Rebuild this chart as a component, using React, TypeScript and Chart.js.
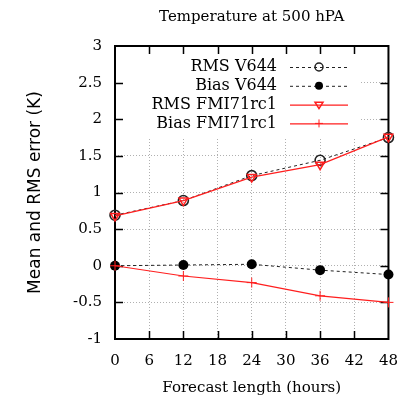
import React, { useEffect, useRef } from 'react';
import { Chart, registerables } from 'chart.js';

Chart.register(...registerables);

const forecastHours = [0, 12, 24, 36, 48];
const rmsV644 = [0.69, 0.89, 1.23, 1.44, 1.75];
const biasV644 = [0.0, 0.01, 0.02, -0.06, -0.12];
const rmsFMI = [0.68, 0.89, 1.21, 1.38, 1.76];
const biasFMI = [0.0, -0.14, -0.23, -0.41, -0.5];
const seriesLabels = ['RMS V644', 'Bias V644', 'RMS FMI71rc1', 'Bias FMI71rc1'];
const chartTitle = 'Temperature at 500 hPA';
const xTitle = 'Forecast length (hours)';
const yTitle = 'Mean and RMS error (K)';
const xMin = 0, xMax = 48, xStep = 6;
const yMin = -1, yMax = 3, yStep = 0.5;

const SERIF = '"DejaVu Serif", serif';
const SANS = '"DejaVu Sans", sans-serif';
const RED = 'rgb(255,30,30)';
const DARK = '#222';

function toPoints(ys: number[]) {
  return forecastHours.map((x, i) => ({ x, y: ys[i] }));
}

function drawMarker(ctx: CanvasRenderingContext2D, kind: number, x: number, y: number, r: number) {
  ctx.save();
  ctx.setLineDash([]);
  if (kind === 0) {
    ctx.strokeStyle = DARK; ctx.lineWidth = 1.5;
    ctx.beginPath(); ctx.arc(x, y, r, 0, Math.PI * 2); ctx.stroke();
  } else if (kind === 1) {
    ctx.fillStyle = '#000';
    ctx.beginPath(); ctx.arc(x, y, r, 0, Math.PI * 2); ctx.fill();
  } else if (kind === 2) {
    ctx.strokeStyle = RED; ctx.lineWidth = 1.5;
    ctx.beginPath();
    ctx.moveTo(x - r, y - r * 0.6); ctx.lineTo(x + r, y - r * 0.6); ctx.lineTo(x, y + r); ctx.closePath();
    ctx.stroke();
  } else {
    ctx.strokeStyle = RED; ctx.lineWidth = 1;
    ctx.beginPath();
    ctx.moveTo(x - r, y); ctx.lineTo(x + r, y);
    ctx.moveTo(x, y - r); ctx.lineTo(x, y + r);
    ctx.stroke();
  }
  ctx.restore();
}

const framePlugin = {
  id: 'frameAndLegend',
  beforeDatasetsDraw(chart: any) {
    const { ctx, chartArea: a, scales } = chart;
    const xs = scales.x, ys = scales.y;
    ctx.save();
    // legend background (opaque, hides grid)
    ctx.fillStyle = '#fff';
    ctx.fillRect(a.left + 1, a.top + 1, 243, 90);
    // tick marks on all four sides, pointing inward
    ctx.strokeStyle = '#000';
    ctx.lineWidth = 1.5;
    ctx.beginPath();
    for (let v = xMin + xStep; v < xMax; v += xStep) {
      const px = Math.round(xs.getPixelForValue(v)) + 0.5;
      ctx.moveTo(px, a.bottom); ctx.lineTo(px, a.bottom - 8);
      ctx.moveTo(px, a.top); ctx.lineTo(px, a.top + 8);
    }
    for (let v = yMin + yStep; v < yMax; v += yStep) {
      const py = Math.round(ys.getPixelForValue(v)) + 0.5;
      ctx.moveTo(a.left, py); ctx.lineTo(a.left + 8, py);
      ctx.moveTo(a.right, py); ctx.lineTo(a.right - 8, py);
    }
    ctx.stroke();
    // frame
    ctx.lineWidth = 2;
    ctx.strokeRect(a.left, a.top, a.right - a.left, a.bottom - a.top);
    ctx.restore();
  },
  afterDatasetsDraw(chart: any) {
    const { ctx, chartArea: a } = chart;
    ctx.save();
    ctx.font = '16px ' + SERIF;
    ctx.fillStyle = '#000';
    ctx.textAlign = 'right';
    ctx.textBaseline = 'middle';
    const textX = a.left + 162;
    const lineL = a.left + 175, lineR = a.left + 233, mk = a.left + 204;
    seriesLabels.forEach((label, i) => {
      const y = a.top + 21 + i * 18.8;
      ctx.fillText(label, textX, y);
      ctx.save();
      if (i < 2) {
        ctx.strokeStyle = DARK; ctx.lineWidth = 1; ctx.setLineDash([3, 3]);
      } else {
        ctx.strokeStyle = RED; ctx.lineWidth = 1.2; ctx.setLineDash([]);
      }
      ctx.beginPath(); ctx.moveTo(lineL, y + 0.5); ctx.lineTo(lineR, y + 0.5); ctx.stroke();
      ctx.restore();
      drawMarker(ctx, i, mk, y, 4);
    });
    ctx.restore();
  },
};

export default function App() {
  const ref = useRef<HTMLCanvasElement>(null);
  useEffect(() => {
    document.body.style.margin = '0';
    const canvas = ref.current!;
    const gridCfg = { color: '#b0b0b0', lineWidth: 1, drawTicks: false };
    const borderCfg = { display: false, dash: [1, 2] };
    const chart = new Chart(canvas, {
      type: 'line',
      data: {
        datasets: [
          {
            label: seriesLabels[0], data: toPoints(rmsV644), borderColor: DARK, borderWidth: 1,
            borderDash: [3, 3], pointStyle: 'circle', pointRadius: 5, pointBorderWidth: 1.6,
            pointBorderColor: DARK, pointBackgroundColor: 'rgba(0,0,0,0)', order: 4, clip: false,
          },
          {
            label: seriesLabels[1], data: toPoints(biasV644), borderColor: DARK, borderWidth: 1,
            borderDash: [3, 3], pointStyle: 'circle', pointRadius: 5, pointBorderWidth: 0,
            pointBorderColor: '#000', pointBackgroundColor: '#000', order: 3, clip: false,
          },
          {
            label: seriesLabels[2], data: toPoints(rmsFMI), borderColor: RED, borderWidth: 1.2,
            pointStyle: 'triangle', rotation: 180, pointRadius: 5, pointBorderWidth: 1.5,
            pointBorderColor: RED, pointBackgroundColor: 'rgba(0,0,0,0)', order: 2, clip: false,
          },
          {
            label: seriesLabels[3], data: toPoints(biasFMI), borderColor: RED, borderWidth: 1.2,
            pointStyle: 'cross', pointRadius: 5, pointBorderWidth: 1,
            pointBorderColor: RED, pointBackgroundColor: RED, order: 1, clip: false,
          },
        ] as any,
      },
      options: {
        responsive: false,
        animation: false,
        layout: { padding: { left: 0, right: 19, top: 0, bottom: 0 } },
        plugins: {
          legend: { display: false },
          tooltip: { enabled: false },
          title: {
            display: true, text: chartTitle, fullSize: false, color: '#000',
            font: { family: SERIF, size: 15, weight: 'normal' },
            padding: { top: 8, bottom: 20 },
          },
        },
        scales: {
          x: {
            type: 'linear', min: xMin, max: xMax,
            ticks: { stepSize: xStep, color: '#000', padding: 13, font: { family: SERIF, size: 15 } },
            grid: gridCfg, border: borderCfg,
            title: {
              display: true, text: xTitle, color: '#000',
              font: { family: SERIF, size: 15 }, padding: { top: 0, bottom: 1 },
            },
            afterFit: (s: any) => { s.height = 59; },
          },
          y: {
            type: 'linear', min: yMin, max: yMax,
            ticks: {
              stepSize: yStep, color: '#000', padding: 13, font: { family: SERIF, size: 15 },
              callback: (v: any) => String(Math.round(Number(v) * 10) / 10),
            },
            grid: gridCfg, border: borderCfg,
            title: {
              display: true, text: yTitle, color: '#000',
              font: { family: SANS, size: 17 }, padding: { top: 25, bottom: 0 },
            },
            afterFit: (s: any) => { s.width = 115; },
          },
        },
      } as any,
      plugins: [framePlugin],
    });
    return () => chart.destroy();
  }, []);
  return <canvas ref={ref} width={411} height={398} style={{ display: 'block' }} />;
}
